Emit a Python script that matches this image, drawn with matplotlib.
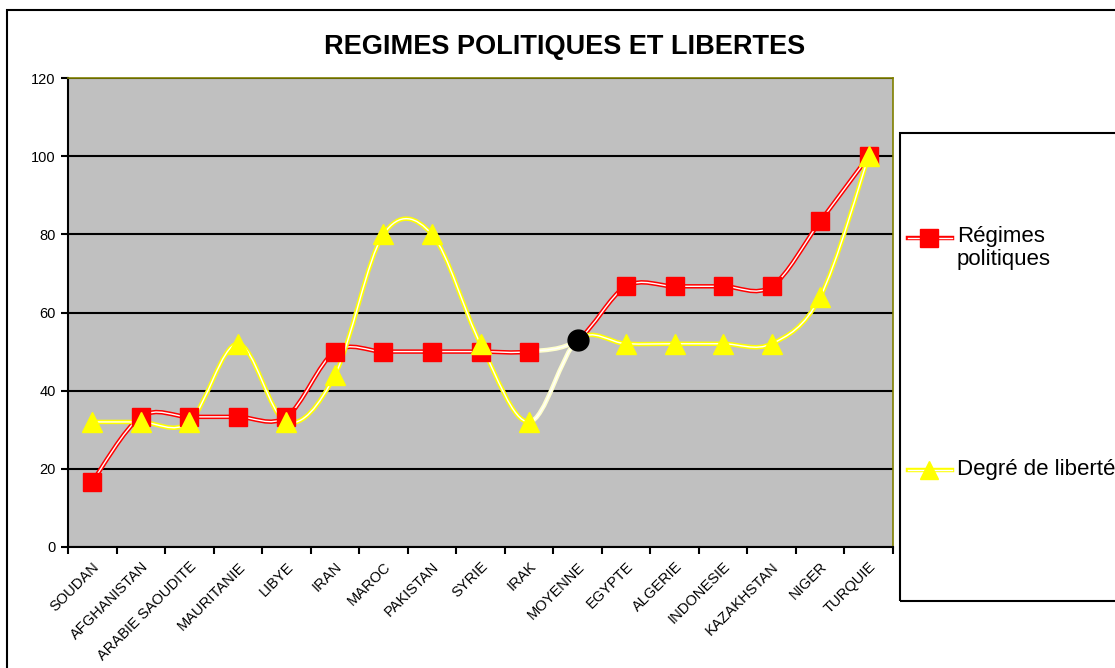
import numpy as np
import matplotlib
matplotlib.use('Agg')
import matplotlib.pyplot as plt
from matplotlib.path import Path
from matplotlib.patches import PathPatch, Rectangle
from matplotlib.lines import Line2D

# données
pays = ['SOUDAN', 'AFGHANISTAN', 'ARABIE SAOUDITE', 'MAURITANIE', 'LIBYE', 'IRAN',
        'MAROC', 'PAKISTAN', 'SYRIE', 'IRAK', 'MOYENNE', 'EGYPTE', 'ALGERIE',
        'INDONESIE', 'KAZAKHSTAN', 'NIGER', 'TURQUIE']
regimes = [16.7, 33.3, 33.3, 33.3, 33.3, 50, 50, 50, 50, 50, 53, 66.7, 66.7, 66.7, 66.7, 83.3, 100]
liberte = [32, 32, 32, 52, 32, 44, 80, 80, 52, 32, 53, 52, 52, 52, 52, 64, 100]
idx_moyenne = pays.index('MOYENNE')

plt.rcParams['font.family'] = ['Liberation Sans', 'DejaVu Sans']

fig = plt.figure(figsize=(11.15, 6.68), dpi=100)
ax = fig.add_axes([68/1115, 1 - 547/668, 825/1115, 469/668])
ax.set_facecolor('#C0C0C0')

LW_EXT, LW_INT = 3.2, 1.0


def courbe_lisse(ax, x, y, couleur, couleur_moy, z):
    # segments de Bezier facon Excel (lissage Catmull-Rom)
    n = len(x)
    for i in range(n - 1):
        p0 = np.array([x[max(i - 1, 0)], y[max(i - 1, 0)]])
        p1 = np.array([x[i], y[i]])
        p2 = np.array([x[i + 1], y[i + 1]])
        p3 = np.array([x[min(i + 2, n - 1)], y[min(i + 2, n - 1)]])
        c1 = p1 + (p2 - p0) / 6
        c2 = p2 - (p3 - p1) / 6
        path = Path([p1, c1, c2, p2], [Path.MOVETO, Path.CURVE4, Path.CURVE4, Path.CURVE4])
        col = couleur_moy if i + 1 == idx_moyenne else couleur
        ax.add_patch(PathPatch(path, fill=False, edgecolor=col, lw=LW_EXT, zorder=z, capstyle='round'))
        ax.add_patch(PathPatch(path, fill=False, edgecolor='white', lw=LW_INT, zorder=z + 0.1, capstyle='round'))


x = np.arange(len(pays))
courbe_lisse(ax, x, regimes, '#FF0000', '#FFFFCC', 3)
courbe_lisse(ax, x, liberte, '#FFFF00', '#FFFFCC', 4)

mask = x != idx_moyenne
ax.plot(x[mask], np.array(regimes)[mask], ls='none', marker='s', ms=12.5, color='#FF0000', zorder=5)
ax.plot(x[mask], np.array(liberte)[mask], ls='none', marker='^', ms=14, color='#FFFF00', zorder=6)
ax.plot([idx_moyenne], [liberte[idx_moyenne]], ls='none', marker='o', ms=15, color='black', zorder=7)

ax.set_xlim(-0.5, len(pays) - 0.5)
ax.set_ylim(0, 120)
ax.set_yticks(range(0, 121, 20))
ax.yaxis.grid(True, color='black', lw=1.5)
ax.set_axisbelow(True)
ax.set_xticks(np.arange(len(pays) + 1) - 0.5)
ax.set_xticklabels([])
ax.set_xticks(x, minor=True)
ax.set_xticklabels(pays, minor=True, rotation=45, ha='right', rotation_mode='anchor', fontsize=10.5)
ax.tick_params(axis='x', which='minor', length=0, pad=9)
ax.tick_params(axis='x', which='major', length=5, width=1.5, direction='out')
ax.tick_params(axis='y', length=5, width=1.5, labelsize=10.5, pad=4)
for s in ['top', 'right']:
    ax.spines[s].set_color('#808000')
    ax.spines[s].set_linewidth(1.2)
for s in ['left', 'bottom']:
    ax.spines[s].set_color('black')
    ax.spines[s].set_linewidth(1.5)

fig.text(565/1115, 1 - 47/668, 'REGIMES POLITIQUES ET LIBERTES', ha='center', va='center',
         fontsize=19.5, fontweight='bold')

# cadre exterieur
fig.add_artist(Rectangle((7/1115, -0.05), 1.2, 1.05 - 10/668, transform=fig.transFigure,
                         fill=False, edgecolor='black', lw=1.5))

# legende
fig.add_artist(Rectangle((900/1115, 1 - 601/668), 0.3, 468/668, transform=fig.transFigure,
                         fill=False, edgecolor='black', lw=1.5))
legende = [('Régimes\npolitiques', '#FF0000', 's', 238), ('Degré de liberté', '#FFFF00', '^', 470)]
for texte, col, mk, yp in legende:
    yf = 1 - yp/668
    fig.add_artist(Line2D([908/1115, 952/1115], [yf, yf], transform=fig.transFigure, color=col, lw=LW_EXT))
    fig.add_artist(Line2D([908/1115, 952/1115], [yf, yf], transform=fig.transFigure, color='white', lw=LW_INT))
    fig.add_artist(Line2D([929/1115], [yf], transform=fig.transFigure, marker=mk, ms=12.5, color=col, ls='none'))
    if '\n' in texte:
        fig.text(957/1115, 1 - 226/668, texte, ha='left', va='top', fontsize=16, linespacing=1.15)
    else:
        fig.text(957/1115, yf, texte, ha='left', va='center', fontsize=16)

fig.savefig('out.png', dpi=100)
